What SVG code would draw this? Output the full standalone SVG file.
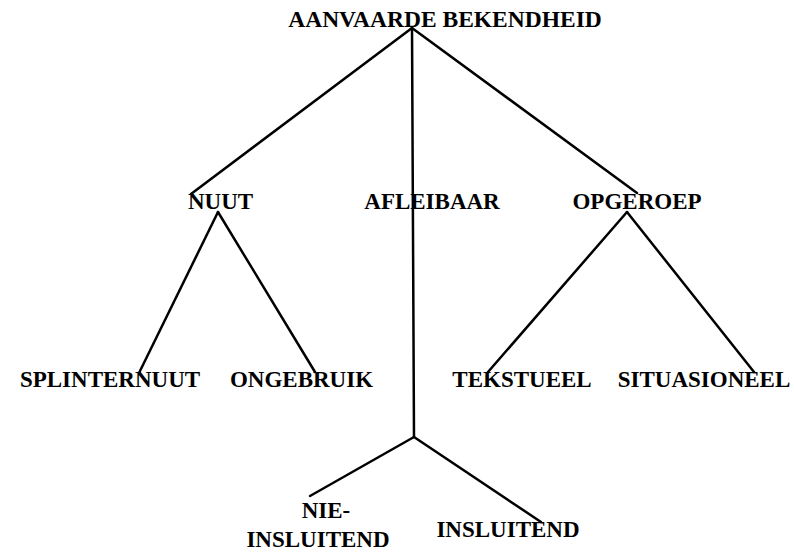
<svg xmlns="http://www.w3.org/2000/svg" width="794" height="553" viewBox="0 0 794 553">
<style>
  .lbl { font-family: "Liberation Serif", "Times New Roman", serif; font-weight: bold; font-size: 23px; fill: #000; text-anchor: middle; }
  .edge { stroke: #000; stroke-width: 2.5; fill: none; stroke-linecap: round; }
</style>
<rect width="794" height="553" fill="#fff"/>
<g id="connectors">
  <line class="edge" x1="412" y1="28" x2="191" y2="194"/>
  <line class="edge" x1="412" y1="28" x2="637" y2="193"/>
  <line class="edge" x1="412" y1="28" x2="414" y2="437"/>
  <line class="edge" x1="218" y1="212" x2="139" y2="373"/>
  <line class="edge" x1="218" y1="212" x2="315" y2="372"/>
  <line class="edge" x1="627" y1="212" x2="488" y2="372"/>
  <line class="edge" x1="627" y1="212" x2="754" y2="372"/>
  <line class="edge" x1="414" y1="437" x2="310" y2="496"/>
  <line class="edge" x1="414" y1="437" x2="541" y2="522"/>
</g>
<g id="aanvaarde-bekendheid"><text class="lbl" x="445" y="27" style="font-size:23.5px">AANVAARDE BEKENDHEID</text></g>
<g id="nuut"><text class="lbl" x="220.5" y="209">NUUT</text></g>
<g id="afleibaar"><text class="lbl" x="432" y="209">AFLEIBAAR</text></g>
<g id="opgeroep"><text class="lbl" x="637" y="209">OPGEROEP</text></g>
<g id="splinternuut"><text class="lbl" x="110" y="387">SPLINTERNUUT</text></g>
<g id="ongebruik"><text class="lbl" x="301.5" y="387">ONGEBRUIK</text></g>
<g id="tekstueel"><text class="lbl" x="522" y="387">TEKSTUEEL</text></g>
<g id="situasioneel"><text class="lbl" x="704" y="387">SITUASIONEEL</text></g>
<g id="nie-insluitend"><text class="lbl" x="326" y="518">NIE-</text><text class="lbl" x="318" y="547">INSLUITEND</text></g>
<g id="insluitend"><text class="lbl" x="508" y="537">INSLUITEND</text></g>
</svg>
